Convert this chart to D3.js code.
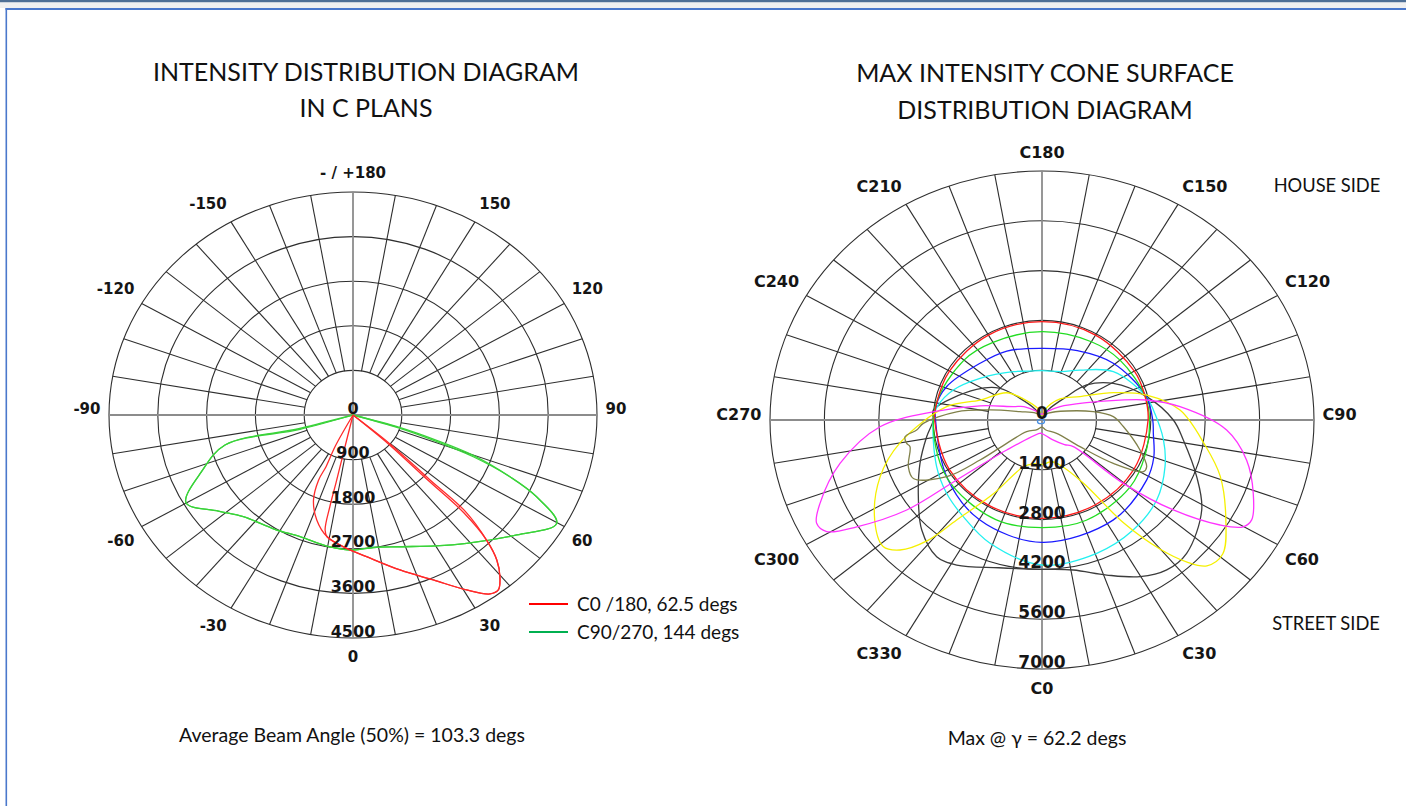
<!DOCTYPE html>
<html>
<head>
<meta charset="utf-8">
<script src="https://cdnjs.cloudflare.com/ajax/libs/d3/7.8.5/d3.min.js"></script>
<style>
  body { margin: 0; background: #fff; }
  svg { display: block; }
  .ring, .spoke { fill: none; stroke: #2e2e2e; stroke-width: 1.1; }
  .axis { stroke: #8c8c8c; stroke-width: 1.8; }
  .lbl { font-family: "DejaVu Sans", Verdana, sans-serif; font-weight: bold; fill: #151515; }
  .txt { font-family: Lato, "Open Sans", sans-serif; fill: #111; }
  .curve { fill: none; stroke-width: 1.3; }
</style>
</head>
<body>
<div class="vis"></div>
<script>
// ---------- left diagram: intensity in C planes, [gamma, cd] ----------
const leftRings = [900, 1800, 2700, 3600, 4500];
const leftRingLabels = ["0", "900", "1800", "2700", "3600", "4500"];
const leftTicks = [0, 30, 60, 90, 120, 150, 180, -150, -120, -90, -60, -30];
const leftTickLabels = ["0", "30", "60", "90", "120", "150", "- / +180", "-150", "-120", "-90", "-60", "-30"];

const c0180a = [[-31, 0], [-27.5, 700], [-25.5, 1150], [-25.8, 1460], [-23, 1865], [-17.5, 2222], [-11, 2503],
  [-2.5, 2693], [5, 2869], [15.5, 3245], [24, 3644], [30.7, 4106], [35, 4408], [37.2, 4433], [39.7, 4242],
  [42.2, 3948], [44.3, 3527], [46.8, 2841], [47.3, 1933], [49.5, 890], [52, 0]];
const c0180b = [[-14, 0], [-13, 793], [-12.9, 1400], [-13, 1898], [-12.5, 2377], [-11, 2503],
  [-2.5, 2693], [5, 2869], [15.5, 3245], [24, 3644], [30.7, 4106], [35, 4408], [37.2, 4433], [39.7, 4242],
  [42.2, 3948], [44.3, 3527], [46.0, 2841], [46.4, 1933], [48.2, 890], [51, 0]];
const c90270a = [[-78, 0], [-73.5, 1019], [-75.6, 2437], [-68, 3000], [-60.1, 3552], [-52, 3150], [-44.6, 2881],
  [-32, 2720], [-21.7, 2642], [-10, 2690], [0, 2724], [8, 2700], [18, 2795], [30, 3050], [39, 3331],
  [51.3, 3870], [59.8, 4346], [64, 3767], [66.7, 3151], [69.2, 2373], [71.1, 1560], [72.8, 908], [76, 0]];
const c90270b = [[-79, 0], [-74.5, 1019], [-75.6, 2437], [-68, 3000], [-60.1, 3552], [-52, 3150], [-44.6, 2881],
  [-32, 2720], [-21.7, 2642], [-10, 2690], [0, 2724], [8, 2700], [18, 2795], [30, 3050], [39, 3331],
  [51.3, 3870], [59.8, 4346], [64, 3767], [66.7, 3151], [69.8, 2373], [71.8, 1560], [73.6, 908], [77, 0]];
const legendNames = ["C0 /180, 62.5 degs", "C90/270, 144 degs"];

// ---------- right diagram: max intensity cone, [C angle, cd] ----------
const rightRings = [1400, 2800, 4200, 5600, 7000];
const rightRingLabels = ["0", "1400", "2800", "4200", "5600", "7000"];
const rightTicks = [0, 30, 60, 90, 120, 150, 180, 210, 240, 270, 300, 330];
const rightTickLabels = ["C0", "C30", "C60", "C90", "C120", "C150", "C180", "C210", "C240", "C270", "C300", "C330"];

const coneRed = [[0, 2765], [30, 2750], [60, 2740], [90, 2730], [104, 2735], [120, 2745], [150, 2755], [180, 2764],
  [210, 2755], [240, 2750], [262, 2760], [270, 2765], [300, 2760], [330, 2762]];
const coneGreen = [[0, 3026], [22, 3040], [50, 2950], [70, 2830], [90, 2765], [104, 2740], [130, 2620], [150, 2540],
  [180, 2483], [210, 2520], [230, 2620], [262, 2770], [290, 2860], [309, 2953], [337, 3043]];
const coneBlue = [[0, 3439], [33, 3357], [58, 3178], [70, 3062], [82.5, 2890], [90, 2850], [104, 2760], [131, 2430],
  [155, 2150], [180, 2015], [205, 2140], [225, 2255], [249, 2626], [262, 2760], [270, 2740], [303, 2925], [330, 3232]];
const coneCyan = [[0, 4076], [20.6, 4003], [37, 3884], [52.7, 3711], [67.5, 3427], [80, 3173], [95.6, 2880], [104, 2760],
  [126.5, 2284], [145, 1713], [160, 1450], [180, 1387], [195, 1420], [208.5, 1546], [233.7, 1980], [249.7, 2433],
  [262, 2720], [270, 2797], [295.8, 3012], [310, 3205], [323.3, 3390], [338.9, 3715]];
const coneDark = [[0, 4198], [10.8, 4293], [20.9, 4665], [29.8, 5076], [37.3, 5298], [44.8, 5283], [58.4, 4826],
  [68.2, 4287], [81.2, 3680], [90, 3380], [103.7, 2773], [119.3, 2105], [130.6, 1514], [136, 913], [150, 350],
  [180, 60], [210, 350], [223, 831], [230.5, 1400], [243, 1889], [264.3, 2811], [270, 2797], [279, 3005],
  [291.2, 3368], [304.1, 3843], [315, 4376], [324.8, 4702], [331.7, 4630], [345, 4300]];
const coneYellow = [[0, 1250], [12, 1200], [20, 1347], [31, 2074], [36, 3580], [40, 4752], [43, 5452], [46, 5899],
  [51, 5985], [59, 5521], [71, 4850], [80.5, 4250], [94.5, 3562], [104.6, 2784], [112.7, 1990], [124, 1178],
  [142, 753], [165, 300], [180, 80], [195, 300], [219, 764], [230, 1192], [250.6, 1692], [261.3, 2482],
  [280, 3712], [291, 4463], [303, 5135], [311, 5418], [315, 5168], [319, 4494], [322, 3567], [329, 2412],
  [340, 1397], [350, 1250]];
const coneMagenta = [[0, 380], [25, 600], [40, 900], [47, 1101], [49.6, 2748], [53.2, 4222], [57.2, 5449],
  [59.9, 5986], [62.5, 6083], [69.2, 5816], [77.9, 5386], [86.6, 4760], [96, 3571], [101.8, 2752], [105.6, 2084],
  [113, 1249], [129, 596], [155, 250], [180, 160], [205, 250], [231, 600], [243, 828], [256, 1644], [265, 2750],
  [272.6, 4173], [283.2, 5339], [292.3, 6175], [296.6, 6486], [299.5, 6368], [302.2, 5633], [306, 4303],
  [307.5, 2768], [312.9, 1239], [351, 380]];
const coneOlive = [[0, 200], [20, 300], [45.2, 532], [52.5, 1232], [56.4, 2203], [60.9, 2985], [64, 2997],
  [71.5, 2659], [85, 2101], [92.9, 1838], [100, 1341], [111.7, 684], [140, 250], [180, 94], [220, 250],
  [247.5, 612], [258.1, 1367], [264, 2208], [271.8, 3055], [275, 3237], [277.6, 3556], [280.7, 3544],
  [282.5, 3479], [290.9, 3682], [296.4, 3695], [303, 2925], [305.2, 1952], [305.8, 1121], [309.7, 513], [335, 300]];

const svg = d3.select(".vis").append("svg")
    .attr("width", 1406)
    .attr("height", 806);

// frame
svg.append("rect").attr("x", 0).attr("y", 0).attr("width", 1406).attr("height", 2.5).attr("fill", "#4e6f95");
svg.append("rect").attr("x", 0).attr("y", 2.5).attr("width", 1406).attr("height", 5.5).attr("fill", "#f0f0f0");
svg.append("rect").attr("x", 5.5).attr("y", 8).attr("width", 1400.5).attr("height", 2).attr("fill", "#4a78cc");
svg.append("rect").attr("x", 5.5).attr("y", 8).attr("width", 1.6).attr("height", 798).attr("fill", "#4a78cc");

function makePolar(cx, cy, rx, ry, maxVal) {
    let r = d3.scaleLinear().domain([0, maxVal]).range([0, 1]);
    let x = d3.scaleLinear().domain([-1, 1]).range([cx - rx, cx + rx]);
    let y = d3.scaleLinear().domain([-1, 1]).range([cy - ry, cy + ry]);
    let rad = d3.scaleLinear().domain([0, 180]).range([0, Math.PI]);
    return {
        r: r, x: x, y: y, cx: cx, cy: cy, rx: rx, ry: ry, max: maxVal, rad: rad,
        pt: function (a, v) { return [x(r(v) * Math.sin(rad(a))), y(r(v) * Math.cos(rad(a)))]; }
    };
}

function drawGrid(g, p, rings, ticks, tickLabels, fontSize) {
    g.selectAll(".ring").data(rings).enter().append("ellipse")
        .attr("class", "ring")
        .attr("cx", p.cx).attr("cy", p.cy)
        .attr("rx", function (d) { return p.pt(90, d)[0] - p.cx; })
        .attr("ry", function (d) { return p.pt(0, d)[1] - p.cy; });

    let spokes = d3.range(0, 360, 10).filter(function (a) { return a % 90 !== 0; });
    g.selectAll(".spoke").data(spokes).enter().append("line")
        .attr("class", "spoke")
        .attr("x1", function (a) { return p.pt(a, rings[0])[0]; })
        .attr("y1", function (a) { return p.pt(a, rings[0])[1]; })
        .attr("x2", function (a) { return p.pt(a, p.max)[0]; })
        .attr("y2", function (a) { return p.pt(a, p.max)[1]; });

    g.selectAll(".axis").data([0, 90]).enter().append("line")
        .attr("class", "axis")
        .attr("x1", function (a) { return p.pt(a, p.max)[0]; })
        .attr("y1", function (a) { return p.pt(a, p.max)[1]; })
        .attr("x2", function (a) { return p.pt(a + 180, p.max)[0]; })
        .attr("y2", function (a) { return p.pt(a + 180, p.max)[1]; });

    // angle labels sit just outside the outer ring
    g.selectAll(".tick").data(ticks).enter().append("text")
        .attr("class", "lbl")
        .style("font-size", fontSize + "px")
        .attr("dominant-baseline", "central")
        .attr("text-anchor", function (a) {
            let s = Math.sin(p.rad(a));
            return s > 0.01 ? "start" : (s < -0.01 ? "end" : "middle");
        })
        .attr("x", function (a) { return p.cx + (p.rx + 8.5) * Math.sin(p.rad(a)); })
        .attr("y", function (a) {
            let c = Math.cos(p.rad(a));
            if (Math.abs(c) < 0.01) return p.cy - 6;
            return p.cy + (p.ry + 19) * c + Math.sign(c) * 10 * (1 - Math.abs(c));
        })
        .text(function (a, i) { return tickLabels[i]; });
}

function drawRingLabels(g, p, rings, ringLabels, fontSize) {
    g.selectAll(".rlab").data([0].concat(rings)).enter().append("text")
        .attr("class", "lbl")
        .style("font-size", fontSize + "px")
        .attr("text-anchor", "middle")
        .attr("dominant-baseline", "central")
        .attr("x", p.cx)
        .attr("y", function (d) { return p.pt(0, d)[1] - 7; })
        .text(function (d, i) { return ringLabels[i]; });
}

// ---------- left chart ----------
let pL = makePolar(353, 415, 244, 223, 4500);
let gL = svg.append("g");
drawGrid(gL, pL, leftRings, leftTicks, leftTickLabels, 15);

let lineL = d3.line()
    .x(function (d) { return pL.pt(d[0], d[1])[0]; })
    .y(function (d) { return pL.pt(d[0], d[1])[1]; })
    .curve(d3.curveCatmullRom.alpha(0.5));

let leftSeries = [
    { data: c90270a, color: "#3ad33a" },
    { data: c90270b, color: "#3ad33a" },
    { data: c0180a, color: "#ff2a2a" },
    { data: c0180b, color: "#ff2a2a" }
];
gL.selectAll(".curve").data(leftSeries).enter().append("path")
    .attr("class", "curve")
    .attr("d", function (s) { return lineL(s.data); })
    .attr("stroke", function (s) { return s.color; })
    .attr("stroke-width", 1.1);

drawRingLabels(gL, pL, leftRings, leftRingLabels, 16);

// legend
let legColors = ["#ff0000", "#00b050"];
let leg = svg.append("g");
leg.selectAll("line").data(legendNames).enter().append("line")
    .attr("x1", 529).attr("x2", 568)
    .attr("y1", function (d, i) { return 604 + i * 28; })
    .attr("y2", function (d, i) { return 604 + i * 28; })
    .attr("stroke", function (d, i) { return legColors[i]; })
    .attr("stroke-width", 2.2);
leg.selectAll("text").data(legendNames).enter().append("text")
    .attr("class", "txt")
    .style("font-size", "19px")
    .attr("x", 577)
    .attr("y", function (d, i) { return 611 + i * 28; })
    .text(function (d) { return d; });

// titles and notes
let texts = [
    { t: "INTENSITY DISTRIBUTION DIAGRAM", x: 366, y: 81, s: 25 },
    { t: "IN C PLANS", x: 366, y: 117, s: 25 },
    { t: "MAX INTENSITY CONE SURFACE", x: 1045, y: 82, s: 25 },
    { t: "DISTRIBUTION DIAGRAM", x: 1045, y: 119, s: 25 },
    { t: "HOUSE SIDE", x: 1327, y: 192, s: 18.3 },
    { t: "STREET SIDE", x: 1326, y: 630, s: 18.3 },
    { t: "Average Beam Angle (50%) = 103.3 degs", x: 352, y: 742, s: 19.5 },
    { t: "Max @ \u03B3 = 62.2 degs", x: 1037, y: 745, s: 19.5 }
];
svg.selectAll(".note").data(texts).enter().append("text")
    .attr("class", "txt note")
    .attr("text-anchor", "middle")
    .style("font-size", function (d) { return d.s + "px"; })
    .attr("x", function (d) { return d.x; })
    .attr("y", function (d) { return d.y; })
    .text(function (d) { return d.t; });

// ---------- right chart ----------
let pR = makePolar(1042, 420, 272, 249, 7000);
let gR = svg.append("g");
drawGrid(gR, pR, rightRings, rightTicks, rightTickLabels, 16);

let lineR = d3.line()
    .x(function (d) { return pR.pt(d[0], d[1])[0]; })
    .y(function (d) { return pR.pt(d[0], d[1])[1]; })
    .curve(d3.curveCatmullRomClosed.alpha(0.5));

let cones = [
    { data: coneDark, color: "#3c3c3c", w: 1.2 },
    { data: coneCyan, color: "#22f0f0", w: 1.3 },
    { data: coneBlue, color: "#1a1aff", w: 1.3 },
    { data: coneGreen, color: "#22dd22", w: 1.3 },
    { data: coneRed, color: "#ff1a1a", w: 2 },
    { data: coneYellow, color: "#f5f000", w: 1.3 },
    { data: coneMagenta, color: "#ff33ff", w: 1.3 },
    { data: coneOlive, color: "#80804a", w: 1.3 }
];
gR.selectAll(".curve").data(cones).enter().append("path")
    .attr("class", "curve")
    .attr("d", function (s) { return lineR(s.data); })
    .attr("stroke", function (s) { return s.color; })
    .attr("stroke-width", function (s) { return s.w; });

// small luminaire marker at the centre
gR.append("ellipse")
    .attr("cx", pR.cx - 1).attr("cy", pR.cy + 1.5)
    .attr("rx", 3.5).attr("ry", 2.2)
    .attr("fill", "none").attr("stroke", "#4a90e2").attr("stroke-width", 1.3);

drawRingLabels(gR, pR, rightRings, rightRingLabels, 17);
</script>
</body>
</html>
